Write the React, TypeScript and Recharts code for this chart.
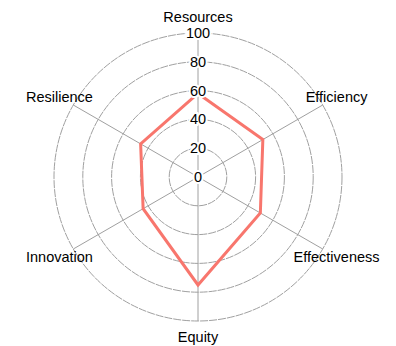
import React from "react";
import { RadarChart, Radar, PolarGrid, PolarAngleAxis, PolarRadiusAxis } from "recharts";

const categories = ["Resources", "Efficiency", "Effectiveness", "Equity", "Innovation", "Resilience"];
const values = [58, 52, 50, 75, 44, 46];
const radiusTicks = [0, 20, 40, 60, 80, 100];

const data = categories.map((c, i) => ({ name: c, value: values[i] }));

const CX = 198;
const CY = 177;
const R = 144;
const RAD = Math.PI / 180;

const AngleTick = (props: any) => {
  const { payload } = props;
  const angle = payload.coordinate;
  const x = CX + 160 * Math.cos(-angle * RAD);
  const y = CY + 160 * Math.sin(-angle * RAD);
  return (
    <text x={x} y={y} textAnchor="middle" dominantBaseline="central" fontSize={14.5} fill="#000"
      fontFamily="Liberation Sans, Arial, sans-serif">
      {payload.value}
    </text>
  );
};

const RadiusTick = (props: any) => {
  const { x, y, payload } = props;
  return (
    <text x={x} y={y} textAnchor="middle" dominantBaseline="central" fontSize={14.5} fill="#000"
      stroke="#fff" strokeWidth={4} paintOrder="stroke" fontFamily="Liberation Sans, Arial, sans-serif">
      {payload.value}
    </text>
  );
};

export default function App() {
  return (
    <div style={{ position: "absolute", left: 0, top: 0, width: 396, height: 346, background: "#fff" }}>
      <style>{`.recharts-polar-grid-concentric circle { stroke-dasharray: 8 1; }`}</style>
      <RadarChart width={396} height={346} data={data} cx={CX} cy={CY} outerRadius={R}
        margin={{ top: 0, right: 0, bottom: 0, left: 0 }}>
        <PolarGrid gridType="circle" stroke="#a0a0a0" strokeWidth={1}
          polarRadius={[28.8, 57.6, 86.4, 115.2, 144]} />
        <PolarAngleAxis dataKey="name" tick={<AngleTick />} tickLine={false} axisLine={false} />
        <PolarRadiusAxis angle={90} domain={[0, 100]} ticks={radiusTicks} tick={<RadiusTick />}
          axisLine={false} tickLine={false} tickCount={6} />
        <Radar dataKey="value" stroke="#F8766D" strokeWidth={3} fill="none" fillOpacity={0}
          isAnimationActive={false} dot={false} />
      </RadarChart>
    </div>
  );
}
